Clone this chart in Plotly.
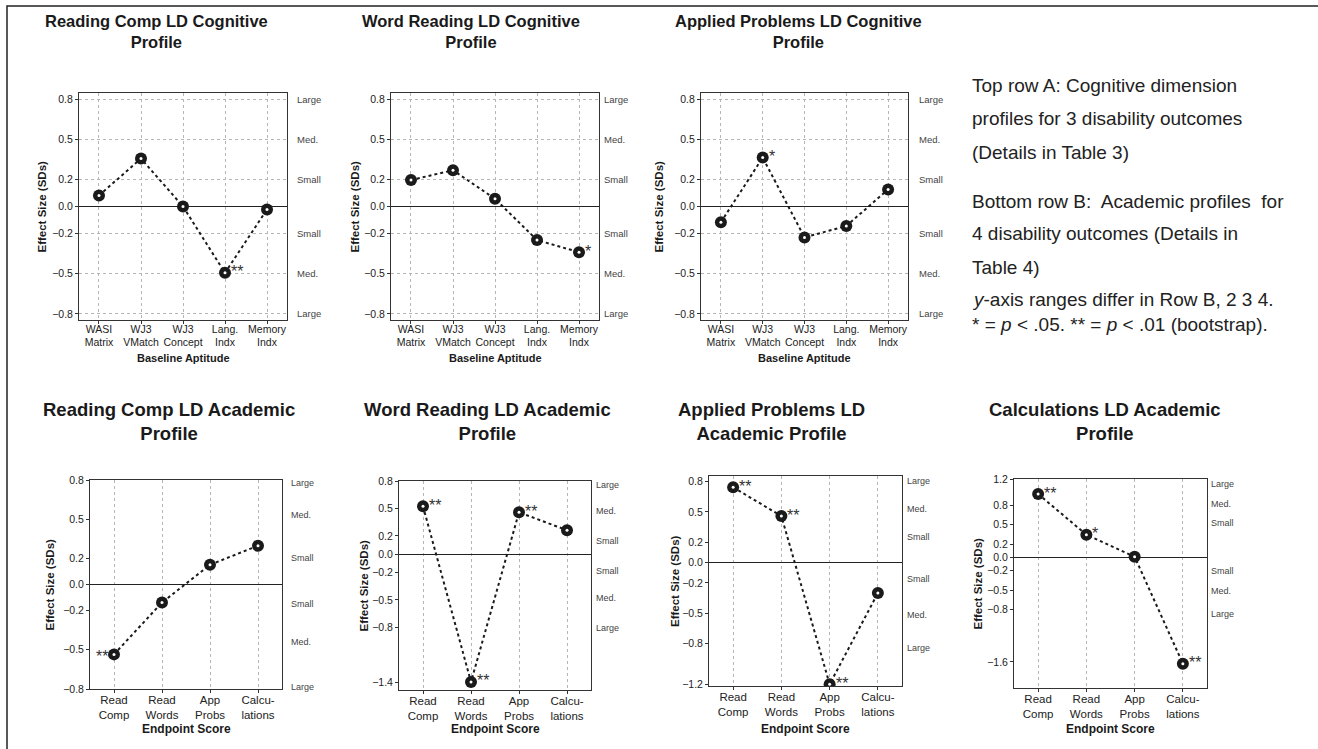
import plotly.graph_objects as go

W, H = 1318, 749
FONT = "Liberation Sans, Arial, Helvetica, sans-serif"
INK = "#1a1a1a"

# ---------------- data ----------------
cog_labels = ["WASI<br>Matrix", "WJ3<br>VMatch", "WJ3<br>Concept", "Lang.<br>Indx", "Memory<br>Indx"]
acad_labels = ["Read<br>Comp", "Read<br>Words", "App<br>Probs", "Calcu-<br>lations"]

rc_cog = [0.082, 0.357, 0.0, -0.494, -0.022]
rc_cog_sig = ["", "", "", "**", ""]
wr_cog = [0.197, 0.27, 0.057, -0.25, -0.34]
wr_cog_sig = ["", "", "", "", "*"]
ap_cog = [-0.117, 0.364, -0.23, -0.145, 0.127]
ap_cog_sig = ["", "*", "", "", ""]

rc_acad = [-0.535, -0.138, 0.151, 0.297]
rc_acad_sig = ["**", "", "", ""]
wr_acad = [0.524, -1.396, 0.458, 0.262]
wr_acad_sig = ["**", "**", "**", ""]
ap_acad = [0.743, 0.46, -1.2, -0.3]
ap_acad_sig = ["**", "**", "**", ""]
calc_acad = [0.97, 0.347, 0.01, -1.628]
calc_acad_sig = ["**", "*", "", "**"]

top_ticks = [0.8, 0.5, 0.2, 0.0, -0.2, -0.5, -0.8]
b2_ticks = [0.8, 0.5, 0.2, 0.0, -0.2, -0.5, -0.8, -1.4]
b3_ticks = [0.8, 0.5, 0.2, 0.0, -0.2, -0.5, -0.8, -1.2]
b4_ticks = [1.2, 0.8, 0.5, 0.2, 0.0, -0.2, -0.5, -0.8, -1.6]

side_text = ["Large", "Med.", "Small", "Small", "Med.", "Large"]
top_side_pos = [0.8, 0.5, 0.2, -0.2, -0.5, -0.8]
b1_side_pos = [0.775, 0.535, 0.2, -0.146, -0.44, -0.785]
b2_side_pos = [0.753, 0.473, 0.142, -0.182, -0.48, -0.804]
b3_side_pos = [0.806, 0.533, 0.25, -0.161, -0.52, -0.845]
b4_side_pos = [1.122, 0.816, 0.531, -0.204, -0.515, -0.867]

notes = [
    "Top row A: Cognitive dimension",
    "profiles for 3 disability outcomes",
    "(Details in Table 3)",
    "Bottom row B:  Academic profiles  for",
    "4 disability outcomes (Details in",
    "Table 4)",
    "<i>y</i>-axis ranges differ in Row B, 2 3 4.",
    "* = <i>p</i> &lt; .05. ** = <i>p</i> &lt; .01 (bootstrap).",
]
note_y = [85, 118, 152, 201, 234, 267, 300, 324]


def fmt(v):
    s = f"{abs(v):.1f}"
    return ("\u2212" + s) if v < 0 else s


# --------------- panel layout (pixels) ---------------
panels = [
    dict(title="Reading Comp LD Cognitive<br>Profile", tx=156, ty=31, cats=cog_labels, vals=rc_cog, sig=rc_cog_sig,
         box=(79, 287, 93, 320), yr=(-0.845, 0.845), ticks=top_ticks, side=top_side_pos, sidex=8,
         ytx=42, xt="Baseline Aptitude", xty=358, top=True),
    dict(title="Word Reading LD Cognitive<br>Profile", tx=471, ty=31, cats=cog_labels, vals=wr_cog, sig=wr_cog_sig,
         box=(391, 599, 93, 320), yr=(-0.845, 0.845), ticks=top_ticks, side=top_side_pos, sidex=3,
         ytx=355, xt="Baseline Aptitude", xty=358, top=True),
    dict(title="Applied Problems LD Cognitive<br>Profile", tx=798, ty=31, cats=cog_labels, vals=ap_cog, sig=ap_cog_sig,
         box=(701, 908, 93, 320), yr=(-0.845, 0.845), ticks=top_ticks, side=top_side_pos, sidex=9,
         ytx=659, xt="Baseline Aptitude", xty=358, top=True),
    dict(title="Reading Comp LD Academic<br>Profile", tx=169, ty=421, cats=acad_labels, vals=rc_acad, sig=rc_acad_sig,
         box=(90, 282, 480, 689), yr=(-0.8, 0.8), ticks=top_ticks, side=b1_side_pos, sidex=7,
         ytx=49, xt="Endpoint Score", xty=729, top=False),
    dict(title="Word Reading LD Academic<br>Profile", tx=488, ty=421, cats=acad_labels, vals=wr_acad, sig=wr_acad_sig,
         box=(399, 591, 481, 690), yr=(-1.484, 0.8), ticks=b2_ticks, side=b2_side_pos, sidex=3,
         ytx=363, xt="Endpoint Score", xty=729, top=False),
    dict(title="Applied Problems LD<br>Academic Profile", tx=771, ty=421, cats=acad_labels, vals=ap_acad, sig=ap_acad_sig,
         box=(709, 902, 476, 686), yr=(-1.217, 0.855), ticks=b3_ticks, side=b3_side_pos, sidex=3,
         ytx=675, xt="Endpoint Score", xty=729, top=False),
    dict(title="Calculations LD Academic<br>Profile", tx=1105, ty=421, cats=acad_labels, vals=calc_acad, sig=calc_acad_sig,
         box=(1014, 1207, 479, 688), yr=(-2.0, 1.2), ticks=b4_ticks, side=b4_side_pos, sidex=2,
         ytx=977, xt="Endpoint Score", xty=729, top=False),
]

fig = go.Figure()
annotations = []
layout_axes = {}

for k, p in enumerate(panels, start=1):
    xa = "x" if k == 1 else f"x{k}"
    ya = "y" if k == 1 else f"y{k}"
    xkey = "xaxis" if k == 1 else f"xaxis{k}"
    ykey = "yaxis" if k == 1 else f"yaxis{k}"
    l, r, t, b = p["box"]
    n = len(p["cats"])
    xs = list(range(n))
    pad = 0.476 if p["top"] else 0.5
    tick_fs = 10.5 if p["top"] else 11.5

    fig.add_trace(go.Scatter(x=xs, y=p["vals"], mode="lines+markers", xaxis=xa, yaxis=ya,
                             line=dict(color=INK, width=2, dash="dot"),
                             marker=dict(size=12, color=INK), showlegend=False, hoverinfo="skip"))
    fig.add_trace(go.Scatter(x=xs, y=p["vals"], mode="markers", xaxis=xa, yaxis=ya,
                             marker=dict(size=3, color="white"), showlegend=False, hoverinfo="skip"))

    layout_axes[xkey] = dict(domain=[l / W, r / W], anchor=ya, range=[-pad, n - 1 + pad], automargin=False,
                             tickvals=xs, ticktext=p["cats"], ticks="outside", ticklen=3, tickcolor="#333",
                             ticklabelstandoff=-4 if p["top"] else -3,
                             tickfont=dict(size=tick_fs, color="#222", family=FONT),
                             showgrid=True, gridcolor="#b5b5b5", griddash="dot", gridwidth=1,
                             showline=True, linecolor="#333", linewidth=1, mirror=True, zeroline=False)
    layout_axes[ykey] = dict(domain=[1 - b / H, 1 - t / H], anchor=xa, range=list(p["yr"]), automargin=False,
                             tickvals=p["ticks"], ticktext=[fmt(v) for v in p["ticks"]],
                             ticks="outside", ticklen=3, tickcolor="#333",
                             tickfont=dict(size=10.5, color="#222", family=FONT),
                             showgrid=p["top"], gridcolor="#b5b5b5", griddash="dot", gridwidth=1,
                             zeroline=True, zerolinecolor="#222", zerolinewidth=1.2,
                             showline=True, linecolor="#333", linewidth=1, mirror=True)

    # title
    annotations.append(dict(text="<b>%s</b>" % p["title"], x=p["tx"] / W, y=1 - p["ty"] / H, xref="paper",
                            yref="paper", showarrow=False, xanchor="center", yanchor="middle",
                            font=dict(size=16.5 if p["top"] else 18.5, color=INK, family=FONT)))
    # y-axis title
    annotations.append(dict(text="<b>Effect Size (SDs)</b>", x=p["ytx"] / W, y=1 - (t + b) / 2 / H,
                            xref="paper", yref="paper", showarrow=False, textangle=-90,
                            xanchor="center", yanchor="middle",
                            font=dict(size=11.5, color=INK, family=FONT)))
    # x-axis title
    annotations.append(dict(text="<b>%s</b>" % p["xt"], x=(l + r) / 2 / W, y=1 - p["xty"] / H,
                            xref="paper", yref="paper", showarrow=False, xanchor="center", yanchor="middle",
                            font=dict(size=11 if p["top"] else 12, color=INK, family=FONT)))
    # effect size descriptors on the right
    for txt, pos in zip(side_text, p["side"]):
        annotations.append(dict(text=txt, x=1, y=pos, xref=f"{xa} domain", yref=ya, showarrow=False,
                                xanchor="left", yanchor="middle", xshift=p["sidex"],
                                font=dict(size=9.5 if p["top"] else 9, color="#444", family=FONT)))
    # significance stars
    for i, (v, s) in enumerate(zip(p["vals"], p["sig"])):
        if not s:
            continue
        left = (not p["top"]) and k == 4 and i == 0
        annotations.append(dict(text=s, x=i, y=v, xref=xa, yref=ya, showarrow=False,
                                xanchor="right" if left else "left", yanchor="middle",
                                xshift=-4 if left else 4, yshift=-2 if left else 1,
                                font=dict(size=16, color="#333", family=FONT)))

for txt, yy in zip(notes, note_y):
    annotations.append(dict(text=txt, x=970 / W, y=1 - yy / H, xref="paper", yref="paper", showarrow=False,
                            xanchor="left", yanchor="middle", align="left",
                            font=dict(size=19, color="#222", family=FONT)))

fig.update_layout(
    width=W, height=H, margin=dict(l=0, r=0, t=0, b=0, pad=0, autoexpand=False),
    paper_bgcolor="white", plot_bgcolor="white",
    font=dict(family=FONT, color=INK),
    annotations=annotations,
    shapes=[dict(type="rect", xref="paper", yref="paper", x0=7 / W, x1=1.02, y0=-0.02, y1=1 - 6 / H,
                 line=dict(color="#222", width=1.5), fillcolor="rgba(0,0,0,0)", layer="below")],
    **layout_axes,
)

fig.write_html("out.html", config={"displayModeBar": False},
               post_script="document.body.style.margin='0';document.body.style.padding='0';"
                           "document.body.style.overflow='hidden';")
